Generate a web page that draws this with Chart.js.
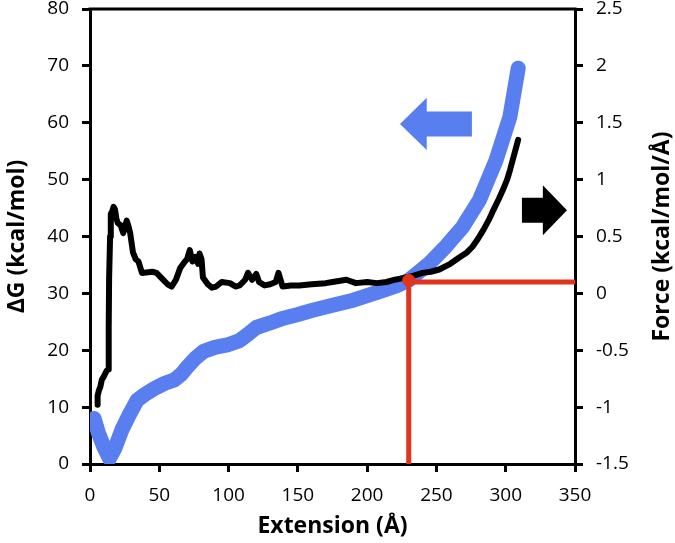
<!DOCTYPE html>
<html>
<head>
<meta charset="utf-8">
<script src="https://cdn.jsdelivr.net/npm/chart.js@4"></script>
<style>
  html, body { margin: 0; padding: 0; background: #fff; }
  #wrap { width: 675px; height: 543px; }
</style>
</head>
<body>
<div id="wrap"><canvas id="myChart" width="675" height="543"></canvas></div>
<script>
const BLUE = '#587EF0';
const RED = '#E2341D';
const BLACK = '#000000';

// free energy (left axis)
const dgExt = [3, 6, 10, 14, 18, 23, 28, 34, 40, 46, 54, 61, 66, 70, 76, 82, 90, 100, 108, 114, 120, 130, 139, 150, 160, 175, 190, 200, 210, 221, 230, 245, 257, 269, 281, 293, 303, 309];
const dgVals = [8, 5.5, 3, 1, 2.8, 6, 8.5, 11.2, 12.3, 13.2, 14.2, 14.8, 15.8, 17, 18.6, 19.8, 20.5, 21, 21.7, 22.8, 24, 24.8, 25.6, 26.3, 27, 27.9, 28.8, 29.6, 30.4, 31.3, 32.3, 35.3, 38.3, 41.7, 46.4, 53.4, 61, 69.6];

// force (right axis)
const forceExt = [5.5, 5.5, 6.5, 7.5, 8.5, 10, 12, 13, 13.5, 13.8, 14.5, 15, 16, 17, 18, 19, 20, 22, 24, 25.5, 26.5, 28, 29, 31, 33, 35, 37.5, 45, 48, 52, 56, 59, 62, 65, 68.5, 70, 72, 74, 76, 78, 79, 80.5, 81.5, 85, 88, 91, 95, 101, 105, 108, 112, 114, 117, 120, 122, 126, 130, 134, 136, 139, 145, 151, 160, 170, 175, 185, 192, 200, 207, 214, 220, 224, 232, 240, 246, 252, 260, 267, 272, 276, 280, 284, 288, 291, 295, 298, 301, 303, 305, 307, 309];
const forceVals = [-0.98, -0.9, -0.85, -0.82, -0.76, -0.73, -0.68, -0.67, -0.3, 0.14, 0.5, 0.7, 0.72, 0.76, 0.74, 0.66, 0.62, 0.6, 0.53, 0.6, 0.64, 0.58, 0.53, 0.36, 0.3, 0.28, 0.18, 0.19, 0.18, 0.13, 0.08, 0.06, 0.12, 0.22, 0.28, 0.3, 0.38, 0.28, 0.32, 0.26, 0.35, 0.3, 0.14, 0.08, 0.05, 0.06, 0.1, 0.09, 0.06, 0.07, 0.12, 0.18, 0.12, 0.17, 0.1, 0.07, 0.08, 0.1, 0.18, 0.06, 0.07, 0.07, 0.08, 0.09, 0.1, 0.12, 0.09, 0.1, 0.09, 0.1, 0.12, 0.13, 0.15, 0.18, 0.19, 0.21, 0.26, 0.32, 0.36, 0.41, 0.48, 0.56, 0.65, 0.73, 0.83, 0.91, 1.0, 1.08, 1.17, 1.26, 1.35];

// red marker lines (left axis units)
const markExt = [230, 230, 350];
const markVals = [0, 32, 32];
const dotExt = [230];
const dotVals = [32.3];

const xTicks = [0, 50, 100, 150, 200, 250, 300, 350];
const dgTicks = [0, 10, 20, 30, 40, 50, 60, 70, 80];
const forceTicks = [-1.5, -1, -0.5, 0, 0.5, 1, 1.5, 2, 2.5];

const RIGHT_TITLE = 'Force (kcal/mol/Å)';

function pts(xs, ys) {
  return xs.map((x, i) => ({ x: x, y: ys[i] }));
}

// arrows: tail, neck, tip along x, centre y, all in left-axis data units
const arrows = [
  { color: BLUE, tail: 275.6, neck: 243, tip: 223.7, y: 59.8, body: 2.2, head: 4.6 },
  { color: BLACK, tail: 311.7, neck: 326.8, tip: 344.2, y: 44.6, body: 2.2, head: 4.4 }
];

const FONT = "'Open Sans', sans-serif";

const framePlugin = {
  id: 'frame',
  afterDatasetsDraw(chart) {
    const ctx = chart.ctx;
    const xs = chart.scales.x, ys = chart.scales.y;
    arrows.forEach(a => {
      const X = v => xs.getPixelForValue(v);
      const Y = v => ys.getPixelForValue(v);
      ctx.save();
      ctx.fillStyle = a.color;
      ctx.beginPath();
      ctx.moveTo(X(a.tail), Y(a.y + a.body));
      ctx.lineTo(X(a.neck), Y(a.y + a.body));
      ctx.lineTo(X(a.neck), Y(a.y + a.head));
      ctx.lineTo(X(a.tip), Y(a.y));
      ctx.lineTo(X(a.neck), Y(a.y - a.head));
      ctx.lineTo(X(a.neck), Y(a.y - a.body));
      ctx.lineTo(X(a.tail), Y(a.y - a.body));
      ctx.closePath();
      ctx.fill();
      ctx.restore();
    });
  },
  afterDraw(chart) {
    const a = chart.chartArea, ctx = chart.ctx;
    ctx.save();
    ctx.strokeStyle = BLACK;
    ctx.lineWidth = 3;
    ctx.beginPath();
    ctx.moveTo(a.left - 1.5, a.top);
    ctx.lineTo(a.right + 1.5, a.top);
    ctx.stroke();
    // right axis title, reading bottom to top like the left one
    const s = chart.scales.y2;
    ctx.translate(s.right - 13, (a.top + a.bottom) / 2);
    ctx.rotate(-Math.PI / 2);
    ctx.font = 'bold 23px ' + FONT;
    ctx.fillStyle = BLACK;
    ctx.textAlign = 'center';
    ctx.textBaseline = 'middle';
    ctx.fillText(RIGHT_TITLE, 0, 0);
    ctx.restore();
  }
};

Chart.defaults.font.family = FONT;
Chart.defaults.color = BLACK;

const tickFont = { size: 19 };
const titleFont = { size: 23, weight: 'bold' };
const axisGrid = { drawOnChartArea: false, color: BLACK, lineWidth: 3, tickLength: 8 };
const axisBorder = { color: BLACK, width: 3 };

const config = {
  type: 'scatter',
  data: {
    datasets: [{
      data: pts(dotExt, dotVals),
      yAxisID: 'y',
      backgroundColor: RED,
      borderColor: RED,
      pointRadius: 6,
      showLine: false,
      order: 0
    }, {
      data: pts(markExt, markVals),
      yAxisID: 'y',
      borderColor: RED,
      borderWidth: 5,
      pointRadius: 0,
      showLine: true,
      order: 1
    }, {
      data: pts(forceExt, forceVals),
      yAxisID: 'y2',
      borderColor: BLACK,
      borderWidth: 6,
      borderJoinStyle: 'round',
      borderCapStyle: 'round',
      pointRadius: 0,
      showLine: true,
      order: 2
    }, {
      data: pts(dgExt, dgVals),
      yAxisID: 'y',
      borderColor: BLUE,
      borderWidth: 15,
      borderJoinStyle: 'round',
      borderCapStyle: 'round',
      pointRadius: 0,
      showLine: true,
      order: 3
    }]
  },
  options: {
    responsive: false,
    animation: false,
    layout: { padding: { top: 9 } },
    plugins: { legend: { display: false }, tooltip: { enabled: false } },
    scales: {
      x: {
        type: 'linear',
        min: 0, max: 350,
        afterBuildTicks: s => { s.ticks = xTicks.map(v => ({ value: v })); },
        afterFit: s => { s.height = 79; s.paddingLeft = 0; s.paddingRight = 0; },
        ticks: { font: tickFont, padding: 12, maxRotation: 0 },
        grid: axisGrid,
        border: axisBorder,
        title: { display: true, text: 'Extension (Å)', font: titleFont, padding: { top: 0, bottom: 3 } }
      },
      y: {
        position: 'left',
        min: 0, max: 80,
        afterBuildTicks: s => { s.ticks = dgTicks.map(v => ({ value: v })); },
        afterFit: s => { s.width = 90; s.paddingTop = 0; s.paddingBottom = 0; },
        ticks: { font: tickFont, padding: 13 },
        grid: axisGrid,
        border: axisBorder,
        title: { display: true, text: 'ΔG (kcal/mol)', font: titleFont, padding: { top: 4, bottom: 0 } }
      },
      y2: {
        position: 'right',
        min: -1.5, max: 2.5,
        afterBuildTicks: s => { s.ticks = forceTicks.map(v => ({ value: v })); },
        afterFit: s => { s.width = 100; s.paddingTop = 0; s.paddingBottom = 0; },
        ticks: { font: tickFont, padding: 13, callback: v => String(v) },
        grid: axisGrid,
        border: axisBorder,
        title: { display: false }
      }
    }
  },
  plugins: [framePlugin]
};

const myChart = new Chart(document.getElementById('myChart'), config);
</script>
</body>
</html>
